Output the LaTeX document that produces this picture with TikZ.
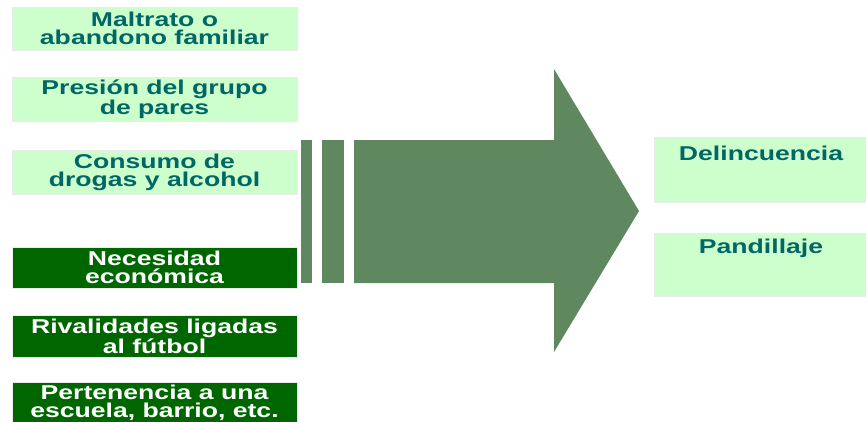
\documentclass[tikz,border=0pt]{standalone}
\usepackage{fontspec}
\usetikzlibrary{positioning}
\setmainfont{Liberation Sans}[FakeStretch=1.33]
\definecolor{palegreen}{HTML}{CCFFCC}
\definecolor{tealtext}{HTML}{006666}
\definecolor{boxdark}{HTML}{006600}
\definecolor{arrowgreen}{HTML}{608860}

\begin{document}
\begin{tikzpicture}[x=0.75pt,y=-0.75pt,
   causebox/.style={rectangle, fill=palegreen, draw=black!8, line width=0.75pt, minimum width=213.75pt, inner sep=0pt, align=center, text=tealtext, font=\fontsize{15}{13.6}\selectfont\bfseries},
   darkcause/.style={causebox, fill=boxdark, text=white},
   effectbox/.style={rectangle, fill=palegreen, draw=black!8, line width=0.75pt, minimum width=160.5pt, inner sep=0pt},
   effecttext/.style={inner sep=0pt, text=tealtext, font=\fontsize{15}{13.6}\selectfont\bfseries}]
   \useasboundingbox (0,0) rectangle (866,421);
   % causas
   \node[causebox, minimum height=32.25pt] (maltrato) at (154.5,28.5) {Maltrato o\\abandono familiar};
   \node[causebox, minimum height=33pt] (presion) at (154.5,99) {Presión del grupo\\de pares};
   \node[causebox, minimum height=33pt] (consumo) at (154.5,172) {Consumo de\\drogas y alcohol};
   \node[darkcause, minimum height=30.75pt] (necesidad) at (154.5,267.5) {Necesidad\\económica};
   \node[darkcause, minimum height=31.5pt] (rivalidad) at (154.5,336) {Rivalidades ligadas\\al fútbol};
   \node[darkcause, minimum height=31.5pt] (pertenencia) at (154.5,403) {Pertenencia a una\\escuela, barrio, etc.};
   % flecha
   \fill[arrowgreen] (301,140) rectangle (312,283);
   \fill[arrowgreen] (322,140) rectangle (344,283);
   \fill[arrowgreen] (354,140) -- (554,140) -- (554,69) -- (639,211) -- (554,352) -- (554,283) -- (354,283) -- cycle;
   % efectos
   \node[effectbox, minimum height=48.75pt] (delincuencia) at (761,169.5) {};
   \node[effecttext, below=7pt of delincuencia.north] (delinctext) {Delincuencia};
   \node[effectbox, minimum height=47.25pt] (pandillaje) at (761,264.5) {};
   \node[effecttext, below=4.5pt of pandillaje.north] (panditext) {Pandillaje};
\end{tikzpicture}
\end{document}
